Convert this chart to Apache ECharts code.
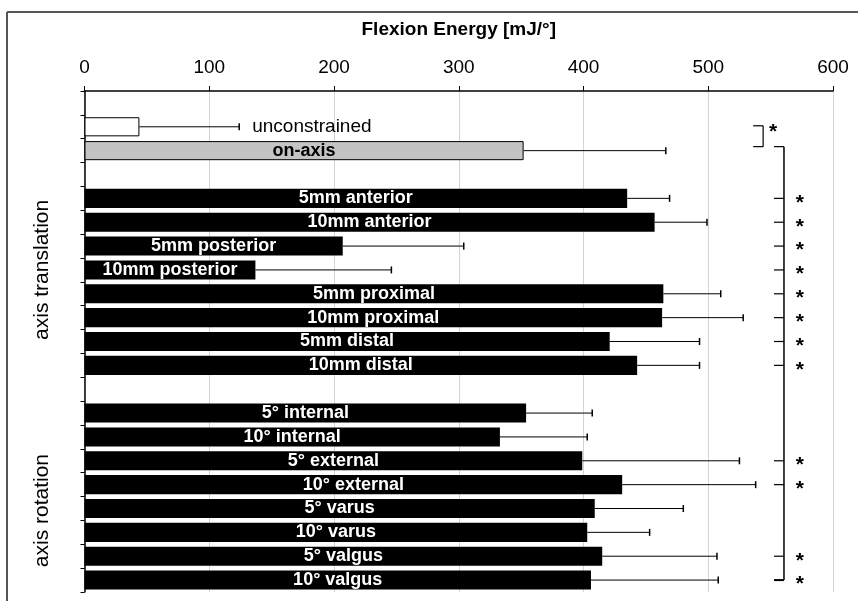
<!DOCTYPE html>
<html><head><meta charset="utf-8">
<script src="https://cdn.jsdelivr.net/npm/echarts@6/dist/echarts.min.js"></script>
<style>html,body{margin:0;padding:0;background:#fff}#c{width:858px;height:601px}</style>
</head><body><div id="c"></div>
<script>
// ---- data ----
const categories = [' ', 'unconstrained', 'on-axis', '  ',
  '5mm anterior', '10mm anterior', '5mm posterior', '10mm posterior',
  '5mm proximal', '10mm proximal', '5mm distal', '10mm distal', '   ',
  '5° internal', '10° internal', '5° external', '10° external',
  '5° varus', '10° varus', '5° valgus', '10° valgus'];
const meanEnergy = [null, 44, 352, null, 435, 457, 207, 137, 464, 463, 421, 443, null,
  354, 333, 399, 431, 409, 403, 415, 406];
const sdEnergy = [null, 80, 114, null, 34, 42, 97, 109, 46, 65, 72, 50, null,
  53, 70, 126, 107, 71, 50, 92, 102];
const significantVsOnAxis = ['5mm anterior', '10mm anterior', '5mm posterior', '10mm posterior',
  '5mm proximal', '10mm proximal', '5mm distal', '10mm distal',
  '5° external', '10° external', '5° valgus', '10° valgus'];
const bracketPair = ['unconstrained', 'on-axis'];
const groupNames = ['axis translation', 'axis rotation'];
const groupFirst = ['5mm anterior', '5° internal'];
const groupLast = ['10mm distal', '10° valgus'];
const axisTitle = 'Flexion Energy [mJ/°]';
const xMin = 0, xMax = 600, xStep = 100;

// ---- chart ----
const FONT = "'Liberation Sans', Arial, Helvetica, sans-serif";
const chart = echarts.init(document.getElementById('c'), null, {renderer: 'canvas'});

function barColor(name) {
  if (name === 'unconstrained') return '#ffffff';
  if (name === 'on-axis') return '#c4c4c4';
  return '#000000';
}

const barData = meanEnergy.map((v, i) => {
  const name = categories[i];
  if (v === null) return '-';
  return {
    value: v,
    itemStyle: {
      color: barColor(name),
      borderColor: '#000',
      borderWidth: (name === 'unconstrained' || name === 'on-axis') ? 1 : 0
    },
    label: {
      show: name !== 'unconstrained',
      color: name === 'on-axis' ? '#000' : '#fff'
    }
  };
});

const errData = [];
meanEnergy.forEach((v, i) => { if (v !== null) errData.push([v, i, sdEnergy[i]]); });

chart.setOption({
  animation: false,
  backgroundColor: '#fff',
  grid: {left: 84.5, right: 25, top: 91, bottom: 9, containLabel: false},
  xAxis: {
    type: 'value', position: 'top', min: xMin, max: xMax, interval: xStep,
    name: axisTitle, nameLocation: 'middle', nameGap: 52,
    nameTextStyle: {fontFamily: FONT, fontWeight: 'bold', fontSize: 19, color: '#000'},
    axisLine: {show: true, lineStyle: {color: '#000', width: 1.5}},
    axisTick: {show: true, length: 5, lineStyle: {color: '#000', width: 1}},
    axisLabel: {fontFamily: FONT, fontSize: 19, color: '#000', margin: 14},
    splitLine: {show: true, lineStyle: {color: '#d4d4d4', width: 1}}
  },
  yAxis: {
    type: 'category', inverse: true, data: categories,
    axisLine: {show: true, lineStyle: {color: '#000', width: 1.5}},
    axisTick: {show: true, length: 4, lineStyle: {color: '#000', width: 1}},
    axisLabel: {show: false},
    splitLine: {show: false}
  },
  series: [
    {
      type: 'bar', data: barData, barCategoryGap: '20%',
      label: {show: true, position: 'inside', formatter: '{b}', fontFamily: FONT, fontWeight: 'bold', fontSize: 18},
      silent: true
    },
    {
      type: 'custom', data: errData, silent: true,
      dimensions: ['mean', 'row', 'sd'],
      encode: {x: 0, y: 1},
      renderItem: function (params, api) {
        const m = api.value(0), row = api.value(1), sd = api.value(2);
        const p0 = api.coord([m, row]);
        const p1 = api.coord([m + sd, row]);
        const children = [
          {type: 'line', shape: {x1: p0[0], y1: p0[1], x2: p1[0], y2: p1[1]}, style: {stroke: '#000', lineWidth: 1}},
          {type: 'line', shape: {x1: p1[0], y1: p1[1] - 3.5, x2: p1[0], y2: p1[1] + 3.5}, style: {stroke: '#000', lineWidth: 1.5}}
        ];
        if (categories[row] === 'unconstrained') {
          children.push({type: 'text', x: p1[0] + 13, y: p1[1], style: {
            text: 'unconstrained', fill: '#000', font: '19px ' + FONT, textAlign: 'left', textVerticalAlign: 'middle'}});
        }
        return {type: 'group', children: children};
      }
    },
    {
      type: 'custom', data: [[0, 0]], silent: true,
      encode: {x: 0, y: 1},
      renderItem: function (params, api) {
        const ch = [];
        const ln = (x1, y1, x2, y2, w) => ch.push({type: 'line', shape: {x1, y1, x2, y2}, style: {stroke: '#000', lineWidth: w || 1.2}});
        const star = (x, y, s) => ch.push({type: 'text', x: x, y: y, style: {text: '*', fill: '#000', font: 'bold ' + (s || 20) + 'px ' + FONT, textAlign: 'center', textVerticalAlign: 'middle'}});
        // unconstrained vs on-axis bracket
        const a = api.coord([536, categories.indexOf(bracketPair[0])]);
        const b = api.coord([544, categories.indexOf(bracketPair[1])]);
        const topY = a[1] - 1, botY = b[1] - 4;
        ln(a[0], topY, b[0], topY); ln(b[0], topY, b[0], botY); ln(a[0], botY, b[0], botY);
        star(api.coord([552, 0])[0], topY + 6, 21);
        // on-axis vs each condition
        const xs = api.coord([552.7, 0])[0], xv = api.coord([560.7, 0])[0], xStar = api.coord([573.5, 0])[0];
        const lastRow = categories.indexOf(significantVsOnAxis[significantVsOnAxis.length - 1]);
        const yEnd = api.coord([0, lastRow])[1];
        ln(xs, botY, xv, botY);
        ln(xv, botY, xv, yEnd, 1.5);
        significantVsOnAxis.forEach(name => {
          const y = api.coord([0, categories.indexOf(name)])[1];
          ln(xs, y, xv, y, name === '10° valgus' ? 2 : 1.2);
          star(xStar, y + 4.5, 21);
        });
        return {type: 'group', children: ch};
      }
    }
  ]
});

// group labels and frame
const gfx = [];
const groupShift = [-12, 14];
groupNames.forEach((g, k) => {
  const y1 = chart.convertToPixel({yAxisIndex: 0}, groupFirst[k]);
  const y2 = chart.convertToPixel({yAxisIndex: 0}, groupLast[k]);
  gfx.push({type: 'text', x: 42, y: (y1 + y2) / 2 + groupShift[k], rotation: Math.PI / 2,
    style: {text: g, fill: '#000', font: '21px ' + FONT, textAlign: 'center', textVerticalAlign: 'middle'}});
});
gfx.push({type: 'line', shape: {x1: 7, y1: 12, x2: 858, y2: 12}, style: {stroke: '#555', lineWidth: 2}});
gfx.push({type: 'line', shape: {x1: 7, y1: 12, x2: 7, y2: 601}, style: {stroke: '#555', lineWidth: 2}});
chart.setOption({graphic: gfx});
</script>
</body></html>
